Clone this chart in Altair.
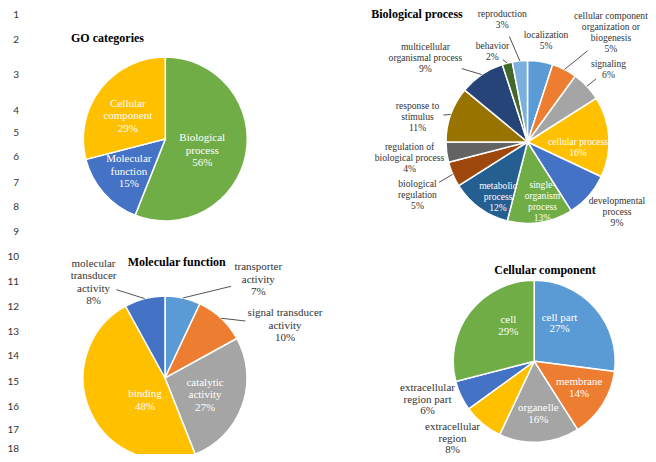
import altair as alt
import pandas as pd

# ---------------- data ----------------
go_cats = ["Biological process", "Molecular function", "Cellular component"]
go_vals = [56, 15, 29]

bp_cats = ["localization", "cellular component organization or biogenesis", "signaling",
           "cellular process", "developmental process", "single-organism process",
           "metabolic process", "biological regulation", "regulation of biological process",
           "response to stimulus", "multicellular organismal process", "behavior", "reproduction"]
bp_vals = [5, 5, 6, 16, 9, 13, 12, 5, 4, 11, 9, 2, 3]

mf_cats = ["transporter activity", "signal transducer activity", "catalytic activity",
           "binding", "molecular transducer activity"]
mf_vals = [7, 10, 27, 48, 8]

cc_cats = ["cell part", "membrane", "organelle", "extracellular region",
           "extracellular region part", "cell"]
cc_vals = [27, 14, 16, 8, 6, 29]

titles = ["GO categories", "Biological process", "Molecular function", "Cellular component"]
row_labels = [str(i) for i in range(1, 19)]

# ---------------- styles / layout ----------------
go_colors = ["#70AD47", "#4472C4", "#FFC000"]
bp_colors = ["#5B9BD5", "#ED7D31", "#A5A5A5", "#FFC000", "#4472C4", "#70AD47", "#255E91",
             "#9E480E", "#636363", "#997300", "#264478", "#43682B", "#7CAFDD"]
mf_colors = ["#5B9BD5", "#ED7D31", "#A5A5A5", "#FFC000", "#4472C4"]
cc_colors = ["#5B9BD5", "#ED7D31", "#A5A5A5", "#FFC000", "#4472C4", "#70AD47"]

wraps = {
    "Biological process": "Biological\nprocess",
    "Molecular function": "Molecular\nfunction",
    "Cellular component": "Cellular\ncomponent",
    "cellular component organization or biogenesis": "cellular component\norganization or\nbiogenesis",
    "developmental process": "developmental\nprocess",
    "single-organism process": "single-\norganism\nprocess",
    "metabolic process": "metabolic\nprocess",
    "biological regulation": "biological\nregulation",
    "regulation of biological process": "regulation of\nbiological process",
    "response to stimulus": "response to\nstimulus",
    "multicellular organismal process": "multicellular\norganismal process",
    "transporter activity": "transporter\nactivity",
    "signal transducer activity": "signal transducer\nactivity",
    "catalytic activity": "catalytic\nactivity",
    "molecular transducer activity": "molecular\ntransducer\nactivity",
    "extracellular region": "extracellular\nregion",
    "extracellular region part": "extracellular\nregion part",
}

# label placement: (label radius, angle offset in degrees, leader gap)
go_lay = dict(cx=157.3, cy=131, R=82, fs=11, lh=12.5, spec={
    "Biological process": (38.8, 7.1, 0),
    "Molecular function": (48.9, -0.4, 0),
    "Cellular component": (43.9, -6.4, 0)})
bp_lay = dict(cx=519.5, cy=134, R=81.5, fs=9.6, lh=11, spec={
    "localization": (102.7, 1.4, 0),
    "cellular component organization or biogenesis": (138, 10.2, 30),
    "signaling": (109, 1.2, 16),
    "cellular process": (50.8, 9.8, 0),
    "developmental process": (113.4, -3.5, 0),
    "single-organism process": (61.5, -5.1, 0),
    "metabolic process": (62.1, -7.7, 0),
    "biological regulation": (122.1, -2.3, 25),
    "regulation of biological process": (119.1, -0.7, 0),
    "response to stimulus": (112.7, -7.2, 26),
    "multicellular organismal process": (132.5, -16.2, 38),
    "behavior": (96.9, -6.8, 13),
    "reproduction": (124.6, -6.3, 18)})
mf_lay = dict(cx=157, cy=370, R=82, fs=11, lh=12.5, spec={
    "transporter activity": (135.5, 30.9, 28),
    "signal transducer activity": (131, 23.2, 40),
    "catalytic activity": (43.7, 3.8, 0),
    "binding": (30.1, -23.2, 0),
    "molecular transducer activity": (119.3, -22.4, 24)})
cc_lay = dict(cx=526.2, cy=353.3, R=81, fs=11, lh=11.5, spec={
    "cell part": (45.7, -14.9, 0),
    "membrane": (52.2, -1.9, 0),
    "organelle": (52.7, -0.9, 0),
    "extracellular region": (112.4, 7.0, 0),
    "extracellular region part": (113.5, 5.3, 0),
    "cell": (43.9, 16.1, 0)})

title_x = [99.5, 409, 168.7, 537]
title_y = [30, 6, 254.3, 262]
row_y = [7, 32, 67, 103, 125, 149, 175, 199, 224, 249, 274, 299, 324, 348, 374, 399, 422, 441]

SERIF = "Liberation Serif"


def pie(cats, vals, colors, lay):
    cx, cy, R, lh = lay["cx"], lay["cy"], lay["R"], lay["lh"]
    rows = []
    for i, (c, v) in enumerate(zip(cats, vals)):
        lr, off, gap = lay["spec"][c]
        label = wraps.get(c, c) + "\n" + f"{v}%"
        rows.append(dict(cat=c, value=v, idx=i, color=colors[i], label=label,
                         nl=label.count("\n") + 1, lr=lr, off=off, gap=gap))
    df = pd.DataFrame(rows)
    base = alt.Chart(df)
    arc = base.mark_arc(outerRadius=R, stroke="white", strokeWidth=1.5).encode(
        theta=alt.Theta("value:Q", stack=True),
        order=alt.Order("idx:Q"),
        color=alt.Color("color:N", scale=None),
        x=alt.value(cx), y=alt.value(cy))
    geo = (base
           .transform_joinaggregate(total="sum(value)")
           .transform_window(cum="sum(value)", sort=[alt.SortField("idx", order="ascending")],
                             frame=[None, 0])
           .transform_calculate(mid="2*PI*(datum.cum - datum.value/2)/datum.total")
           .transform_calculate(a="datum.mid + datum.off*PI/180")
           .transform_calculate(
               lx=f"{cx} + datum.lr*sin(datum.a)",
               ly=f"{cy} - datum.lr*cos(datum.a)",
               ex=f"{cx} + {R}*sin(datum.mid)",
               ey=f"{cy} - {R}*cos(datum.mid)",
               tc=f"datum.lr < {R} ? 'white' : '#333333'")
           .transform_calculate(ty=f"datum.ly - (datum.nl - 1)*{lh}/2")
           .transform_calculate(dd="sqrt(pow(datum.ex-datum.lx,2)+pow(datum.ey-datum.ly,2))")
           .transform_calculate(px="datum.lx + (datum.ex-datum.lx)*datum.gap/datum.dd",
                                py="datum.ly + (datum.ey-datum.ly)*datum.gap/datum.dd"))
    rule = geo.transform_filter("datum.gap > 0").mark_rule(color="#404040", strokeWidth=0.9).encode(
        x=alt.X("px:Q", scale=None, axis=None),
        y=alt.Y("py:Q", scale=None, axis=None),
        x2="ex:Q", y2="ey:Q")
    text = geo.mark_text(font=SERIF, fontSize=lay["fs"], lineHeight=lh, lineBreak="\n",
                         align="center", baseline="middle").encode(
        x=alt.X("lx:Q", scale=None, axis=None),
        y=alt.Y("ty:Q", scale=None, axis=None),
        text="label:N",
        color=alt.Color("tc:N", scale=None))
    return [arc, rule, text]


layers = []
layers += pie(go_cats, go_vals, go_colors, go_lay)
layers += pie(bp_cats, bp_vals, bp_colors, bp_lay)
layers += pie(mf_cats, mf_vals, mf_colors, mf_lay)
layers += pie(cc_cats, cc_vals, cc_colors, cc_lay)

tdf = pd.DataFrame(dict(t=titles, tx=title_x, ty=title_y))
title_layer = alt.Chart(tdf).mark_text(font=SERIF, fontSize=12, fontWeight="bold", color="black",
                                       align="center", baseline="middle").encode(
    x=alt.X("tx:Q", scale=None, axis=None), y=alt.Y("ty:Q", scale=None, axis=None), text="t:N")

rdf = pd.DataFrame(dict(r=row_labels, ry=row_y))
row_layer = alt.Chart(rdf).mark_text(font="Lato", fontSize=10, color="#333333",
                                     align="right", baseline="middle").encode(
    x=alt.value(11), y=alt.Y("ry:Q", scale=None, axis=None), text="r:N")

chart = alt.layer(*layers, title_layer, row_layer).properties(
    width=640, height=446, padding=0,
    autosize=alt.AutoSizeParams(type="none"),
    background="white",
).configure_view(stroke=None)

chart.save("out.html", embed_options={"renderer": "svg", "actions": False})
